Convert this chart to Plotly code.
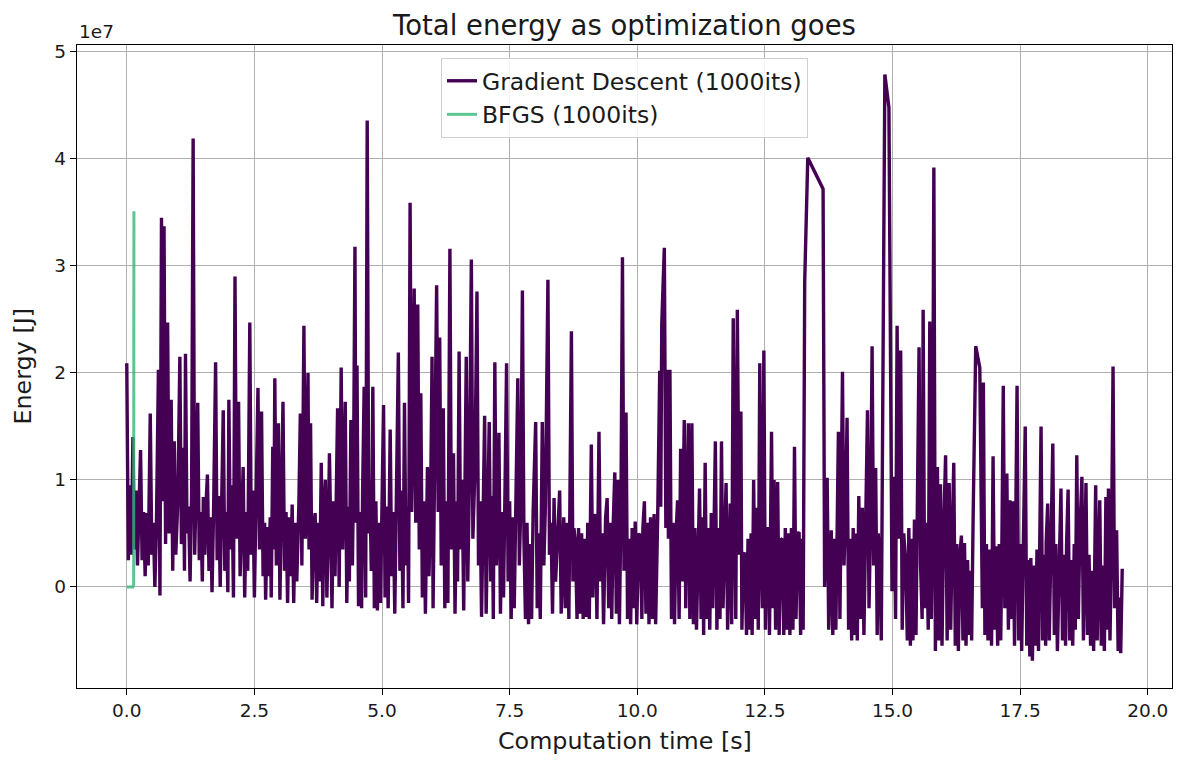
import plotly.graph_objects as go

# ---------------- data (energy in units of 1e7 J) ----------------
# Gradient descent samples: (computation time [s], energy [1e7 J])
gd_samples_0_5 = [
    (0.00, 2.09), (0.03, 0.25), (0.06, 0.95), (0.09, 0.30), (0.12, 1.40), (0.15, 0.35),
    (0.18, 0.90), (0.21, 0.20), (0.24, 0.75), (0.27, 1.28), (0.30, 0.25), (0.33, 0.70),
    (0.36, 0.10), (0.39, 0.69), (0.42, 0.20), (0.46, 1.62), (0.49, 0.30), (0.52, 0.60),
    (0.55, 0.00), (0.58, 0.55), (0.62, 2.03), (0.65, -0.08), (0.68, 3.45), (0.71, 0.80),
    (0.73, 3.37), (0.76, 0.40), (0.80, 2.47), (0.83, 0.50), (0.87, 1.75), (0.90, 0.15),
    (0.93, 1.36), (0.96, 0.30), (1.00, 0.80),
    (1.04, 2.15), (1.07, 0.40), (1.11, 1.30), (1.13, 0.15), (1.15, 2.18), (1.18, 0.50),
    (1.21, 0.75), (1.24, 0.05), (1.27, 0.85), (1.30, 4.19), (1.33, 0.30), (1.36, 0.95),
    (1.39, 1.72), (1.42, 0.25), (1.45, 0.70), (1.48, 0.05), (1.50, 0.84), (1.53, 0.30),
    (1.55, 0.75), (1.58, 1.05), (1.61, 0.15), (1.64, 0.65), (1.67, -0.05), (1.70, 0.70),
    (1.74, 2.10), (1.77, 0.25), (1.80, 0.85), (1.83, 0.00), (1.86, 0.65), (1.89, 1.65),
    (1.92, 0.15), (1.95, 0.70), (1.98, -0.05),
    (2.00, 1.75), (2.03, 0.35), (2.06, 0.95), (2.09, -0.10), (2.12, 2.90), (2.15, 0.45),
    (2.19, 1.73), (2.22, 0.10), (2.25, 0.80), (2.28, 1.12), (2.31, -0.10), (2.34, 0.70),
    (2.37, 0.15), (2.41, 2.47), (2.44, 0.30), (2.47, 0.90), (2.50, -0.10), (2.53, 0.75),
    (2.57, 1.86), (2.60, 0.35), (2.64, 1.64), (2.67, 0.10), (2.70, 0.60), (2.72, -0.12),
    (2.75, 0.56), (2.78, 0.10), (2.81, 0.65), (2.83, -0.10), (2.86, 1.31), (2.88, 0.35),
    (2.90, 1.95), (2.93, 0.20), (2.97, 1.53), (3.00, -0.12),
    (3.03, 0.80), (3.06, 1.73), (3.09, 0.15), (3.12, 0.70), (3.15, -0.15), (3.18, 0.65),
    (3.21, 0.10), (3.24, 0.77), (3.27, -0.15), (3.30, 0.60), (3.33, 0.05), (3.37, 0.75),
    (3.40, 1.62), (3.43, 0.20), (3.47, 2.44), (3.50, 0.45), (3.55, 2.00), (3.57, 0.35),
    (3.60, 1.53), (3.63, -0.12), (3.66, 0.55), (3.69, 0.69), (3.72, -0.15), (3.75, 0.60),
    (3.78, 0.05), (3.81, 1.16), (3.84, -0.18), (3.86, 0.70), (3.89, 1.00), (3.92, -0.10),
    (3.95, 0.60), (3.97, 1.25),
    (4.02, -0.20), (4.05, 0.80), (4.08, 0.10), (4.10, 0.95), (4.13, 1.67), (4.16, 0.00),
    (4.20, 2.05), (4.23, 0.35), (4.25, 1.00), (4.28, 1.73), (4.31, -0.15), (4.34, 0.75),
    (4.36, 0.05), (4.39, 1.56), (4.42, 0.20), (4.44, 0.95), (4.47, 3.18), (4.49, 0.60),
    (4.51, 2.07), (4.54, -0.18), (4.57, 0.70), (4.60, -0.20), (4.62, 0.90), (4.65, 1.87),
    (4.68, -0.10), (4.71, 4.36), (4.74, 0.50), (4.76, 1.00), (4.79, 0.15), (4.82, 1.87),
    (4.85, -0.20), (4.88, 0.80), (4.91, -0.22), (4.94, 0.60), (4.97, -0.15), (5.00, 0.70),
]

gd_samples_5_10 = [
    (5.03, 1.70), (5.06, -0.10), (5.09, 0.75), (5.12, -0.20), (5.16, 1.47), (5.19, 0.10),
    (5.22, 0.70), (5.25, -0.25), (5.28, 0.80), (5.32, 2.19), (5.35, 0.15), (5.38, 0.90),
    (5.41, -0.20), (5.44, 1.72), (5.47, 0.20), (5.50, 0.75), (5.52, -0.15), (5.55, 3.59),
    (5.58, 0.70), (5.60, 1.30), (5.63, 2.79), (5.66, 0.60), (5.70, 2.64), (5.73, 0.35),
    (5.76, 1.81), (5.79, -0.10), (5.82, 0.80), (5.85, -0.25), (5.89, 1.12), (5.92, 0.10),
    (5.95, 0.70), (5.98, 2.15), (6.00, -0.20),
    (6.03, 0.90), (6.07, 2.82), (6.10, 0.70), (6.13, 2.33), (6.16, 0.20), (6.20, 1.67),
    (6.23, -0.20), (6.26, 0.80), (6.29, -0.15), (6.33, 3.16), (6.36, 0.35), (6.40, 1.25),
    (6.43, -0.25), (6.46, 0.80), (6.48, 0.05), (6.51, 2.20), (6.54, 0.35), (6.57, 1.00),
    (6.60, -0.22), (6.62, 0.85), (6.65, 2.15), (6.68, 0.05), (6.71, 0.95), (6.75, 3.06),
    (6.78, 0.45), (6.82, 1.10), (6.86, 2.76), (6.89, 0.20), (6.92, 0.80), (6.95, -0.28),
    (6.98, 0.60),
    (7.01, 1.60), (7.04, -0.25), (7.07, 0.70), (7.10, 1.54), (7.13, 0.05), (7.16, 0.85),
    (7.18, -0.30), (7.21, 2.10), (7.24, 0.20), (7.27, 0.75), (7.29, 1.44), (7.32, -0.25),
    (7.35, 0.70), (7.38, -0.10), (7.41, 0.95), (7.44, 2.09), (7.47, 0.05), (7.50, 0.80),
    (7.53, -0.30), (7.56, 0.65), (7.59, -0.20), (7.62, 0.95), (7.66, 1.95), (7.69, 0.20),
    (7.72, 0.80), (7.75, 2.77), (7.78, 0.45), (7.81, -0.30), (7.84, 0.60), (7.87, -0.35),
    (7.90, 0.40), (7.93, -0.30), (7.96, 0.70),
    (8.01, 1.54), (8.04, -0.20), (8.07, 0.50), (8.10, -0.30), (8.14, 1.54), (8.17, 0.20),
    (8.20, 0.75), (8.25, 2.87), (8.28, 0.30), (8.31, 0.60), (8.34, -0.25), (8.37, 0.83),
    (8.40, 0.05), (8.44, 0.55), (8.48, 0.90), (8.51, -0.25), (8.56, 0.65), (8.59, -0.20),
    (8.63, 0.60), (8.66, -0.30), (8.71, 2.39), (8.74, 0.05), (8.76, 0.55), (8.79, 0.41),
    (8.82, -0.30), (8.85, 0.55), (8.88, -0.25), (8.91, 0.50), (8.94, -0.30), (8.97, 0.45),
    (9.00, -0.28),
    (9.03, 0.60), (9.06, -0.30), (9.10, 1.33), (9.13, -0.10), (9.15, 0.60), (9.18, 0.68),
    (9.21, -0.30), (9.25, 1.45), (9.28, 0.05), (9.31, 0.50), (9.34, -0.35), (9.38, 0.65),
    (9.41, 0.83), (9.44, -0.20), (9.47, 0.60), (9.50, -0.30), (9.53, 0.60), (9.56, 1.07),
    (9.59, -0.25), (9.62, 1.00), (9.65, -0.35), (9.68, 0.70), (9.71, 3.08), (9.74, 0.15),
    (9.78, 1.63), (9.81, -0.30), (9.84, 0.45), (9.87, -0.35), (9.90, 0.55), (9.93, -0.20),
    (9.96, 0.61), (9.99, -0.35),
]

gd_samples_10_15 = [
    (10.03, 0.50), (10.06, 0.47), (10.09, -0.30), (10.11, 0.55), (10.14, 0.80), (10.17, -0.25),
    (10.20, 0.60), (10.23, -0.35), (10.26, 0.65), (10.30, -0.30), (10.33, 0.68), (10.36, -0.35),
    (10.40, 0.65), (10.44, 2.02), (10.46, 0.75), (10.48, 2.46), (10.53, 3.17), (10.56, 0.55),
    (10.59, 2.03), (10.61, 0.45), (10.64, 2.03), (10.67, -0.30), (10.70, 0.60), (10.73, -0.35),
    (10.76, 0.50), (10.79, 0.81), (10.82, -0.30), (10.85, 1.29), (10.88, 0.05), (10.92, 1.56),
    (10.95, -0.20), (10.98, 0.65),
    (11.00, 1.53), (11.03, -0.30), (11.07, 1.53), (11.10, -0.35), (11.13, 0.55), (11.16, -0.40),
    (11.19, 0.50), (11.22, 0.92), (11.25, -0.30), (11.28, 0.65), (11.30, -0.45), (11.33, 1.16),
    (11.36, -0.30), (11.39, 0.55), (11.42, -0.40), (11.45, 0.69), (11.48, -0.20), (11.50, 0.50),
    (11.53, 1.36), (11.56, -0.40), (11.59, 0.55), (11.62, -0.30), (11.65, 1.36), (11.68, -0.20),
    (11.71, 0.50), (11.74, 0.97), (11.77, -0.40), (11.80, 0.50), (11.82, 0.78), (11.85, -0.35),
    (11.88, 2.51), (11.91, 0.55), (11.93, -0.30), (11.96, 2.59),
    (12.00, 0.30), (12.03, 1.64), (12.05, -0.40), (12.08, 0.30), (12.11, 0.32), (12.14, -0.45),
    (12.17, 0.45), (12.20, -0.40), (12.23, 0.50), (12.25, -0.45), (12.28, 1.00), (12.31, -0.30),
    (12.35, 0.74), (12.37, -0.40), (12.40, 2.09), (12.43, 0.20), (12.45, -0.20), (12.48, 2.21),
    (12.51, -0.40), (12.53, 0.45), (12.56, 0.56), (12.59, -0.45), (12.63, 1.45), (12.66, -0.20),
    (12.68, 1.00), (12.71, -0.40), (12.75, 0.98), (12.78, -0.45), (12.81, 0.45), (12.84, 0.44),
    (12.87, -0.45), (12.90, 0.55), (12.93, -0.40), (12.96, 0.50), (12.99, -0.45),
    (13.02, 0.55), (13.05, -0.40), (13.08, 1.31), (13.11, -0.30), (13.14, 0.50), (13.17, 0.51),
    (13.20, -0.45), (13.23, 0.45), (13.25, -0.40), (13.28, 2.85), (13.34, 4.01), (13.64, 3.72),
    (13.67, 0.00), (13.72, 1.02), (13.75, -0.40), (13.80, 0.53), (13.83, -0.45), (13.86, 0.45),
    (13.89, -0.40), (13.91, 0.60), (13.94, 1.45), (13.97, -0.30), (13.99, 0.70),
    (14.02, 2.01), (14.05, 0.20), (14.08, 0.70), (14.11, 1.58), (14.14, -0.40), (14.17, 0.45),
    (14.20, -0.50), (14.23, 0.55), (14.26, -0.45), (14.29, 0.50), (14.31, -0.50), (14.34, 0.85),
    (14.37, -0.30), (14.41, 0.74), (14.44, -0.45), (14.47, 0.45), (14.51, 1.65), (14.54, -0.20),
    (14.57, 0.60), (14.60, 2.25), (14.63, 0.20), (14.67, 1.11), (14.70, -0.45), (14.72, 0.50),
    (14.75, 0.27), (14.78, -0.50), (14.85, 4.79), (14.93, 4.48), (14.99, -0.04),
]

gd_samples_15_20 = [
    (15.03, 1.03), (15.06, -0.30), (15.09, 2.44), (15.12, 0.45), (15.16, 2.21), (15.19, -0.40),
    (15.22, 0.50), (15.26, 0.20), (15.29, -0.50), (15.32, 0.55), (15.35, -0.55), (15.38, 0.45),
    (15.40, -0.50), (15.43, 0.63), (15.46, -0.45), (15.49, 0.80), (15.52, 2.24), (15.55, 0.20),
    (15.58, -0.30), (15.60, 2.59), (15.63, -0.20), (15.66, 0.60), (15.70, -0.40), (15.73, 2.48),
    (15.76, -0.30), (15.78, 0.35), (15.81, 3.92), (15.84, -0.60), (15.88, 1.12), (15.91, -0.50),
    (15.94, 0.96), (15.97, -0.55), (16.00, 0.50),
    (16.04, 1.23), (16.07, -0.50), (16.11, 0.97), (16.14, -0.40), (16.17, 0.50), (16.20, 1.16),
    (16.23, -0.55), (16.26, 0.40), (16.29, -0.60), (16.32, 0.30), (16.35, 0.48), (16.38, -0.50),
    (16.41, 0.41), (16.44, -0.55), (16.47, 0.25), (16.50, -0.45), (16.53, 0.15), (16.55, -0.50),
    (16.58, 0.67), (16.63, 2.25), (16.71, 2.05), (16.74, 0.89), (16.76, -0.20), (16.78, 1.91),
    (16.81, -0.45), (16.84, 0.40), (16.87, -0.50), (16.90, 0.35), (16.94, -0.55), (16.97, 1.22),
    (17.00, -0.40),
    (17.03, 0.38), (17.06, -0.55), (17.09, 0.40), (17.12, -0.50), (17.14, 0.25), (17.17, 1.88),
    (17.20, -0.20), (17.24, 1.06), (17.27, -0.40), (17.30, 0.81), (17.33, -0.30), (17.36, 0.80),
    (17.39, -0.55), (17.41, 0.30), (17.44, 1.88), (17.47, -0.50), (17.50, 0.40), (17.53, -0.60),
    (17.56, 0.30), (17.60, 1.50), (17.63, -0.55), (17.66, 0.25), (17.69, -0.65), (17.71, 0.27),
    (17.74, -0.69), (17.77, 0.20), (17.80, -0.55), (17.83, 0.35), (17.86, -0.60), (17.88, 0.20),
    (17.91, 1.50), (17.94, -0.50), (17.97, 0.30), (18.00, -0.55),
    (18.01, 0.41), (18.04, 0.78), (18.07, -0.50), (18.10, 0.30), (18.14, 1.34), (18.17, -0.45),
    (18.20, 0.40), (18.23, -0.60), (18.26, 0.25), (18.30, 0.92), (18.33, -0.50), (18.36, 0.30),
    (18.39, -0.55), (18.41, 0.40), (18.44, 0.91), (18.47, -0.50), (18.50, 0.25), (18.53, -0.55),
    (18.56, 0.40), (18.58, -0.40), (18.61, 1.23), (18.64, -0.30), (18.67, 0.50), (18.71, 1.03),
    (18.74, -0.50), (18.79, 0.97), (18.82, -0.45), (18.85, 0.30), (18.88, -0.55), (18.91, 0.15),
    (18.94, -0.60), (18.98, 0.95), (19.01, -0.50), (19.06, 0.81), (19.09, -0.55), (19.12, 0.20),
    (19.15, -0.60), (19.18, 0.84), (19.21, -0.40), (19.23, 0.92), (19.26, -0.50), (19.29, 0.40),
    (19.32, 2.06), (19.35, -0.20), (19.39, 0.53), (19.42, -0.60), (19.45, -0.10), (19.47, -0.62),
    (19.50, 0.17),
]

bfgs_time = [0.00, 0.04, 0.08, 0.12, 0.135, 0.14]
bfgs_energy = [0.00, 0.00, 0.00, 0.00, 0.02, 3.51]

x_tick_values = [0.0, 2.5, 5.0, 7.5, 10.0, 12.5, 15.0, 17.5, 20.0]
x_tick_labels = ["0.0", "2.5", "5.0", "7.5", "10.0", "12.5", "15.0", "17.5", "20.0"]
y_tick_values = [0, 1, 2, 3, 4, 5]
y_tick_labels = ["0", "1", "2", "3", "4", "5"]

# ---------------- figure ----------------
gd_all = gd_samples_0_5 + gd_samples_5_10 + gd_samples_10_15 + gd_samples_15_20
gd_time = [p[0] for p in gd_all]
gd_energy = [p[1] for p in gd_all]

FONT = "DejaVu Sans"
TXT = "#1a1a1a"
fig = go.Figure()
fig.add_trace(go.Scatter(
    x=gd_time, y=gd_energy, mode="lines", name="Gradient Descent (1000its)",
    line=dict(color="#440154", width=3.4),
))
fig.add_trace(go.Scatter(
    x=bfgs_time, y=bfgs_energy, mode="lines", name="BFGS (1000its)",
    line=dict(color="rgba(53,183,121,0.8)", width=3),
))

axis_common = dict(
    showline=True, linecolor="black", linewidth=1.3, mirror=True,
    ticks="outside", ticklen=6, tickwidth=1.3, tickcolor="black",
    showgrid=True, gridcolor="#b0b0b0", gridwidth=1.1, zeroline=False,
    tickfont=dict(family=FONT, size=18.5, color=TXT),
)
fig.update_xaxes(range=[-0.975, 20.475], tickvals=x_tick_values, ticktext=x_tick_labels, **axis_common)
fig.update_yaxes(range=[-0.945, 5.065], tickvals=y_tick_values, ticktext=y_tick_labels, **axis_common)

W, H = 1189, 762
OFF = 8  # page body margin
# plot area in page pixels: x 77..1172, y 45..688
L, T = 77 - OFF, 45 - OFF
R = W - (1172 - OFF)
B = H - (688 - OFF)
ph = 688 - 45

fig.update_layout(
    width=W, height=H,
    margin=dict(l=L, r=R, t=T, b=B, autoexpand=False),
    plot_bgcolor="white", paper_bgcolor="white",
    font=dict(family=FONT, color=TXT),
    title=dict(text="Total energy as optimization goes", x=0.5, xref="paper", xanchor="center",
               y=1 - (25 - OFF) / H, yref="container", yanchor="middle",
               font=dict(family=FONT, size=27.5, color=TXT)),
    legend=dict(x=0.5, xanchor="center", y=(688 - 58) / ph, yanchor="top",
                bgcolor="rgba(255,255,255,0.85)", bordercolor="#d0d0d0", borderwidth=1,
                font=dict(family=FONT, size=23.5, color=TXT)),
    annotations=[
        dict(text="Computation time [s]", x=0.5, xref="paper", xanchor="center",
             y=(688 - 741) / ph, yref="paper", yanchor="middle", showarrow=False,
             font=dict(family=FONT, size=23.8, color=TXT)),
        dict(text="Energy [J]", x=(22 - 77) / 1095, xref="paper", xanchor="center",
             y=0.5, yref="paper", yanchor="middle", textangle=-90, showarrow=False,
             font=dict(family=FONT, size=23.8, color=TXT)),
        dict(text="1e7", x=0, xref="paper", xanchor="left",
             y=(688 - 31) / ph, yref="paper", yanchor="middle", showarrow=False,
             font=dict(family=FONT, size=18.5, color=TXT)),
    ],
)

fig.write_html("out.html")
